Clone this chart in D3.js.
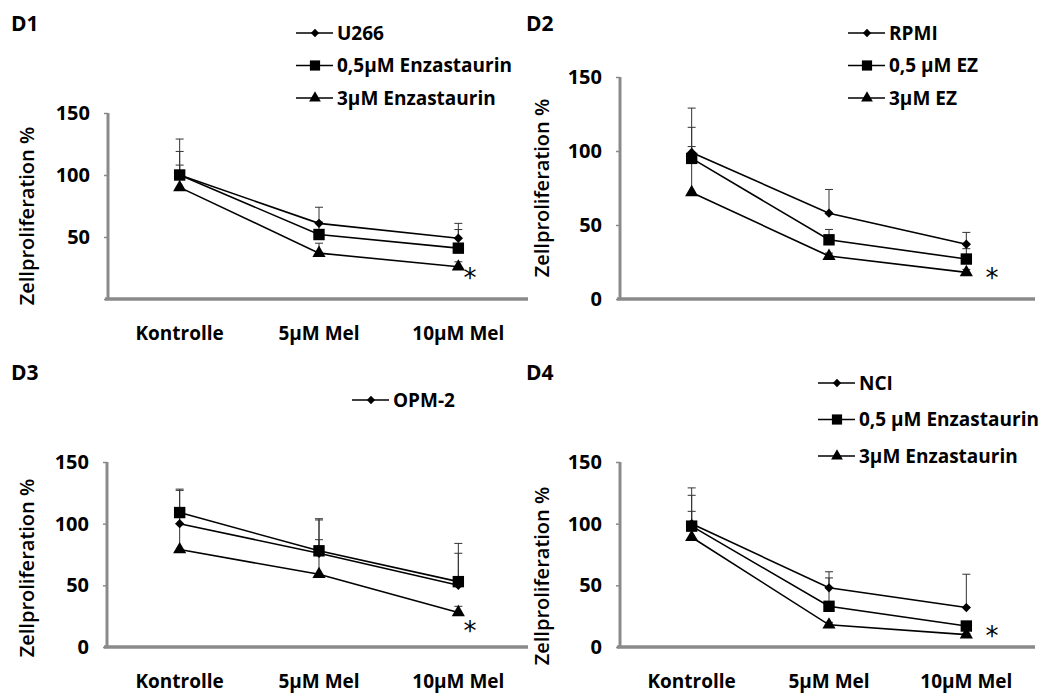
<!DOCTYPE html>
<html>
<head>
<meta charset="utf-8">
<script src="https://cdn.jsdelivr.net/npm/d3@7"></script>
<style>
  body { margin: 0; background: #fff; }
  svg text { font-family: "Open Sans", sans-serif; font-weight: bold; fill: #000; }
</style>
</head>
<body>
<svg width="1051" height="698"></svg>
<script>
var categories = ["Kontrolle", "5µM Mel", "10µM Mel"];
var yTicks = [0, 50, 100, 150];

// D1 - U266
var d1Labels = ["U266", "0,5µM Enzastaurin", "3µM Enzastaurin"];
var d1Values = [[100, 61, 49], [100, 52, 41], [90, 37, 26]];
var d1Errors = [[29, 13, 12], [19, 10, 15], [18, 8, 4]];

// D2 - RPMI
var d2Labels = ["RPMI", "0,5 µM EZ", "3µM EZ"];
var d2Values = [[99, 58, 37], [95, 40, 27], [72, 29, 18]];
var d2Errors = [[17, 16, 8], [34, 7, 7], [31, 2, 2]];

// D3 - OPM-2
var d3Labels = ["OPM-2"];
var d3Values = [[100, 76, 50], [109, 78, 53], [79, 59, 28]];
var d3Errors = [[27, 28, 26], [19, 25, 31], [32, 28, 5]];

// D4 - NCI
var d4Labels = ["NCI", "0,5 µM Enzastaurin", "3µM Enzastaurin"];
var d4Values = [[100, 48, 32], [98, 33, 17], [89, 18, 10]];
var d4Errors = [[29, 13, 27], [25, 23, 2], [21, 2, 1]];

var markers = [d3.symbolDiamond2, d3.symbolSquare, d3.symbolTriangle];
var markerSize = [55, 130, 75];

var svg = d3.select("svg");

var panels = [
  { title: "D1", labels: d1Labels, values: d1Values, errors: d1Errors,
    x0: 110, x1: 528, yTop: 113, yBot: 299, axisX: 108, show0: false, xLabels: true,
    titleX: 11, titleY: 31, ylabX: 27, ylabY: 216,
    legX: 296, legY: 33, legDy: 32.5, star: [470, 287] },
  { title: "D2", labels: d2Labels, values: d2Values, errors: d2Errors,
    x0: 623, x1: 1035, yTop: 77, yBot: 299, axisX: 620, show0: true, xLabels: false,
    titleX: 526, titleY: 31, ylabX: 542, ylabY: 188,
    legX: 848, legY: 33, legDy: 32.5, star: [992, 287] },
  { title: "D3", labels: d3Labels, values: d3Values, errors: d3Errors,
    x0: 110, x1: 528, yTop: 462, yBot: 647, axisX: 107, show0: true, xLabels: true,
    titleX: 11, titleY: 380, ylabX: 27, ylabY: 568,
    legX: 352, legY: 400, legDy: 36, star: [470, 640] },
  { title: "D4", labels: d4Labels, values: d4Values, errors: d4Errors,
    x0: 623, x1: 1035, yTop: 462, yBot: 647, axisX: 620, show0: true, xLabels: true,
    titleX: 526, titleY: 380, ylabX: 542, ylabY: 576,
    legX: 818, legY: 383, legDy: 36.5, star: [992, 645] }
];

panels.forEach(function(p) {
  var g = svg.append("g");

  var x = d3.scalePoint().domain(categories).range([p.x0, p.x1]).padding(0.5);
  var y = d3.scaleLinear().domain([0, 150]).range([p.yBot, p.yTop]);

  // title
  g.append("text").attr("x", p.titleX).attr("y", p.titleY)
    .style("font-size", "21px").text(p.title);

  // y axis
  var yAxis = g.append("g")
    .attr("transform", "translate(" + p.axisX + ",0)")
    .call(d3.axisLeft(y).tickValues(yTicks).tickSize(4).tickPadding(14)
      .tickFormat(function(d) { return (d === 0 && !p.show0) ? "" : d; }));
  yAxis.select(".domain").attr("stroke", "#8a8a8a").attr("stroke-width", 3)
    .attr("d", "M0," + p.yTop + "V" + p.yBot);
  yAxis.selectAll(".tick line").attr("stroke", "#8a8a8a").attr("stroke-width", 1.5);
  yAxis.selectAll(".tick text").style("font-size", "20px").attr("fill", "#000");

  // x axis line
  g.append("line")
    .attr("x1", p.axisX - 3).attr("x2", p.x1)
    .attr("y1", p.yBot).attr("y2", p.yBot)
    .attr("stroke", "#8a8a8a").attr("stroke-width", 3.5);

  if (p.xLabels) {
    g.selectAll(".xlab").data(categories).enter().append("text")
      .attr("x", function(d) { return x(d); })
      .attr("y", p.yBot + 41)
      .attr("text-anchor", "middle")
      .style("font-size", "19px")
      .text(function(d) { return d; });
  }

  // y label
  g.append("text")
    .attr("transform", "translate(" + p.ylabX + "," + p.ylabY + ") rotate(-90)")
    .attr("text-anchor", "middle").attr("dy", "0.35em")
    .style("font-size", "20px").style("font-weight", "600")
    .text("Zellproliferation %");

  var line = d3.line()
    .x(function(d, i) { return x(categories[i]); })
    .y(function(d) { return y(d); });

  // error bars (upper only)
  p.values.forEach(function(vals, s) {
    var eg = g.append("g");
    vals.forEach(function(v, i) {
      var cx = x(categories[i]);
      var top = y(v + p.errors[s][i]);
      eg.append("line").attr("x1", cx).attr("x2", cx)
        .attr("y1", y(v)).attr("y2", top)
        .attr("stroke", "#333").attr("stroke-width", 1);
      eg.append("line").attr("x1", cx - 4).attr("x2", cx + 4)
        .attr("y1", top).attr("y2", top)
        .attr("stroke", "#333").attr("stroke-width", 1);
    });
  });

  // series lines and markers
  p.values.forEach(function(vals, s) {
    g.append("path").datum(vals)
      .attr("d", line)
      .attr("fill", "none").attr("stroke", "#000").attr("stroke-width", 1.6);
    g.selectAll(".m" + s).data(vals).enter().append("path")
      .attr("transform", function(d, i) { return "translate(" + x(categories[i]) + "," + y(d) + ")"; })
      .attr("d", d3.symbol().type(markers[s]).size(markerSize[s]))
      .attr("fill", "#000");
  });

  // significance star
  g.append("text").attr("x", p.star[0]).attr("y", p.star[1])
    .attr("text-anchor", "middle")
    .style("font-size", "26px").style("font-weight", "normal")
    .style("font-family", "DejaVu Sans")
    .text("*");

  // legend
  p.labels.forEach(function(lab, s) {
    var ly = p.legY + s * p.legDy;
    g.append("line").attr("x1", p.legX).attr("x2", p.legX + 37)
      .attr("y1", ly).attr("y2", ly)
      .attr("stroke", "#000").attr("stroke-width", 1.5);
    g.append("path")
      .attr("transform", "translate(" + (p.legX + 19) + "," + ly + ")")
      .attr("d", d3.symbol().type(markers[s]).size(markerSize[s] * 0.8))
      .attr("fill", "#000");
    g.append("text").attr("x", p.legX + 41).attr("y", ly)
      .attr("dy", "0.36em").style("font-size", "19px")
      .text(lab);
  });
});
</script>
</body>
</html>
